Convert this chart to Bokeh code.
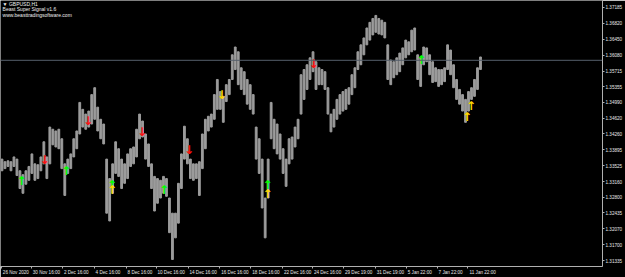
from bokeh.plotting import figure
from bokeh.models import FixedTicker, PrintfTickFormatter, Span, Label, ColumnDataSource
from bokeh.core.properties import value
from bokeh.embed import file_html
from bokeh.resources import INLINE

# ---- data (one entry ~ 3 hourly bars) ----
high = [1.3368, 1.3362, 1.3364, 1.3362, 1.3373, 1.3368, 1.3341, 1.3332, 1.3341, 1.3351,
        1.3380, 1.3357, 1.3355, 1.3373, 1.3408, 1.3373, 1.3442, 1.3437, 1.3433, 1.3437,
        1.3415, 1.3357, 1.3368, 1.3380, 1.3415, 1.3433, 1.3499, 1.3483, 1.3472, 1.3479,
        1.3517, 1.3533, 1.3488, 1.3460, 1.3449, 1.3368, 1.3323, 1.3357, 1.3408, 1.3392,
        1.3368, 1.3357, 1.3380, 1.3392, 1.3396, 1.3437, 1.3472, 1.3456, 1.3426, 1.3403,
        1.3357, 1.3328, 1.3323, 1.3319, 1.3328, 1.3323, 1.3278, 1.3243, 1.3243, 1.3312,
        1.3380, 1.3444, 1.3415, 1.3368, 1.3357, 1.3357, 1.3362, 1.3426, 1.3460, 1.3467,
        1.3472, 1.3517, 1.3552, 1.3524, 1.3513, 1.3540, 1.3552, 1.3609, 1.3627, 1.3616,
        1.3579, 1.3570, 1.3552, 1.3540, 1.3517, 1.3442, 1.3415, 1.3368, 1.3278, 1.3368,
        1.3499, 1.3460, 1.3449, 1.3426, 1.3392, 1.3368, 1.3415, 1.3419, 1.3442, 1.3460,
        1.3563, 1.3575, 1.3586, 1.3602, 1.3616, 1.3593, 1.3579, 1.3575, 1.3570, 1.3533,
        1.3472, 1.3483, 1.3506, 1.3517, 1.3524, 1.3529, 1.3533, 1.3563, 1.3579, 1.3616,
        1.3632, 1.3648, 1.3671, 1.3684, 1.3693, 1.3700, 1.3693, 1.3689, 1.3684, 1.3632,
        1.3597, 1.3593, 1.3602, 1.3613, 1.3625, 1.3643, 1.3639, 1.3666, 1.3671, 1.3609,
        1.3602, 1.3627, 1.3625, 1.3609, 1.3593, 1.3579, 1.3575, 1.3575, 1.3579, 1.3632,
        1.3620, 1.3586, 1.3552, 1.3529, 1.3517, 1.3506, 1.3524, 1.3533, 1.3552, 1.3579,
        1.3604]
low = [1.3341, 1.3346, 1.3351, 1.3341, 1.3351, 1.3330, 1.3300, 1.3289, 1.3310, 1.3319,
       1.3335, 1.3319, 1.3323, 1.3341, 1.3357, 1.3323, 1.3357, 1.3401, 1.3396, 1.3392,
       1.3346, 1.3284, 1.3335, 1.3346, 1.3373, 1.3392, 1.3426, 1.3442, 1.3437, 1.3442,
       1.3449, 1.3460, 1.3433, 1.3415, 1.3403, 1.3243, 1.3225, 1.3289, 1.3335, 1.3328,
       1.3300, 1.3312, 1.3323, 1.3351, 1.3357, 1.3373, 1.3415, 1.3419, 1.3368, 1.3351,
       1.3300, 1.3248, 1.3266, 1.3278, 1.3289, 1.3282, 1.3198, 1.3136, 1.3186, 1.3220,
       1.3300, 1.3368, 1.3357, 1.3323, 1.3319, 1.3323, 1.3284, 1.3346, 1.3392, 1.3433,
       1.3442, 1.3460, 1.3483, 1.3483, 1.3453, 1.3501, 1.3517, 1.3552, 1.3575, 1.3540,
       1.3529, 1.3517, 1.3495, 1.3483, 1.3472, 1.3368, 1.3335, 1.3255, 1.3186, 1.3278,
       1.3415, 1.3392, 1.3380, 1.3368, 1.3335, 1.3305, 1.3357, 1.3368, 1.3396, 1.3415,
       1.3472, 1.3506, 1.3529, 1.3552, 1.3570, 1.3529, 1.3540, 1.3540, 1.3529, 1.3472,
       1.3431, 1.3442, 1.3460, 1.3472, 1.3479, 1.3483, 1.3495, 1.3517, 1.3533, 1.3575,
       1.3586, 1.3609, 1.3632, 1.3643, 1.3655, 1.3661, 1.3657, 1.3655, 1.3648, 1.3552,
       1.3540, 1.3556, 1.3563, 1.3570, 1.3586, 1.3602, 1.3609, 1.3616, 1.3620, 1.3552,
       1.3536, 1.3586, 1.3593, 1.3563, 1.3545, 1.3547, 1.3536, 1.3540, 1.3547, 1.3575,
       1.3563, 1.3533, 1.3506, 1.3495, 1.3479, 1.3453, 1.3479, 1.3506, 1.3513, 1.3529,
       1.3575]
bar_idx = list(range(len(high)))

buy_green_x = [6.5, 21.5, 36.8, 54.2, 88.8, 140.2]
buy_green_y = [1.33163, 1.33415, 1.33072, 1.32958, 1.33072, 1.35974]
buy_yellow_x = [36.8, 88.8, 155.5, 156.8]
buy_yellow_y = [1.32958, 1.32866, 1.34649, 1.34900]
sell_yellow_x = [73.5]
sell_yellow_y = [1.35151]
sell_red_x = [14.2, 28.8, 46.8, 62.5, 104.2]
sell_red_y = [1.33666, 1.34557, 1.34306, 1.33895, 1.35883]

price_ticks = [1.37185, 1.36820, 1.36450, 1.36080, 1.35715, 1.35355, 1.34990, 1.34620, 1.34260,
               1.33895, 1.33525, 1.33160, 1.32800, 1.32435, 1.32070, 1.31700, 1.31335]
time_ticks = [-0.2, 9.8, 20.2, 30.8, 41.5, 51.5, 62.2, 72.8, 83.2, 93.8, 103.8, 114.2, 124.8, 135.2, 145.5, 155.8]
time_labels = ["26 Nov 2020", "30 Nov 16:00", "2 Dec 16:00", "4 Dec 16:00", "8 Dec 16:00", "10 Dec 16:00",
               "14 Dec 16:00", "16 Dec 16:00", "18 Dec 16:00", "22 Dec 16:00", "24 Dec 16:00", "29 Dec 19:00",
               "31 Dec 19:00", "5 Jan 22:00", "7 Jan 22:00", "11 Jan 22:00"]
current_price = 1.35963
title_lines = ["\u25BC GBPUSD,H1", "Beast Super Signal v1.6", "www.beasttradingsoftware.com"]
title_y = [1.37335, 1.37210, 1.37085]

# ---- layout helpers (label placement only) ----
FONT = "Liberation Sans"
FONT_PX = 4.6
PX_PER_BAR = 3.0
_cw = {" ": 0.278, ":": 0.278, "N": 0.722, "D": 0.722, "J": 0.5, "o": 0.556, "v": 0.5,
       "e": 0.556, "c": 0.5, "a": 0.556, "n": 0.556}
def _text_px(s):
    return sum(_cw.get(ch, 0.556) for ch in s) * FONT_PX
# the terminal writes each time label to the right of its tick: centre the label there
label_pos = [t + (_text_px(s) / 2 + 1.5) / PX_PER_BAR for t, s in zip(time_ticks, time_labels)]

# ---- figure ----
p = figure(width=625, height=277, output_backend="svg", toolbar_location=None,
           x_range=(-0.5, 200.8), y_range=(1.31198, 1.37345), y_axis_location="right",
           background_fill_color="black", border_fill_color="black", outline_line_color=None,
           min_border_left=0, min_border_top=0, min_border_right=0, min_border_bottom=0)
p.grid.visible = False

for ax in (p.xaxis[0], p.yaxis[0]):
    ax.axis_line_color = "#b0b0b0"
    ax.major_tick_line_color = "#b0b0b0"
    ax.major_tick_in = 0
    ax.major_tick_out = 2
    ax.major_label_text_color = "#e8e8e8"
    ax.major_label_text_font = FONT
    ax.major_label_text_font_size = "%gpx" % FONT_PX
    ax.major_label_standoff = 1

p.yaxis.minor_tick_line_color = None
p.yaxis.ticker = FixedTicker(ticks=price_ticks)
p.yaxis.formatter = PrintfTickFormatter(format="%.5f")

# labels sit at label_pos (no visible mark there); the real tick marks are drawn as minor ticks
p.xaxis.ticker = FixedTicker(ticks=label_pos, minor_ticks=time_ticks)
p.xaxis.major_label_overrides = {lp: s for lp, s in zip(label_pos, time_labels)}
p.xaxis.major_tick_line_color = None
p.xaxis.minor_tick_line_color = "#b0b0b0"
p.xaxis.minor_tick_in = 0
p.xaxis.minor_tick_out = 2

src = ColumnDataSource(dict(x=bar_idx, high=high, low=low))
p.vbar(x="x", bottom="low", top="high", width=0.6, source=src, color="#9c9c9c")

p.add_layout(Span(location=current_price, dimension="width", line_color="#56606c", line_width=1))

arrow_kw = dict(text_font=value("DejaVu Sans"), text_font_style="bold", text_font_size="12px",
                text_align="center", text_baseline="middle")
p.text(x=buy_green_x, y=buy_green_y, text=["\u2191"] * len(buy_green_x), text_color="#00ff00", **arrow_kw)
p.text(x=buy_yellow_x, y=buy_yellow_y, text=["\u2191"] * len(buy_yellow_x), text_color="#ffd700", **arrow_kw)
p.text(x=sell_yellow_x, y=sell_yellow_y, text=["\u2193"] * len(sell_yellow_x), text_color="#ffd700", **arrow_kw)
p.text(x=sell_red_x, y=sell_red_y, text=["\u2193"] * len(sell_red_x), text_color="#ff1010", **arrow_kw)

for line, yy in zip(title_lines, title_y):
    p.add_layout(Label(x=0.2, y=yy, text=line, text_color="#f0f0f0", text_font=FONT,
                       text_font_size="5px", text_baseline="top"))

p.add_layout(Label(x=200.9, y=current_price, text="1.35963", text_color="black",
                   text_font=FONT, text_font_size="%gpx" % FONT_PX, text_baseline="middle",
                   background_fill_color="white", padding=1))

open("out.html", "w").write(file_html(p, INLINE))
